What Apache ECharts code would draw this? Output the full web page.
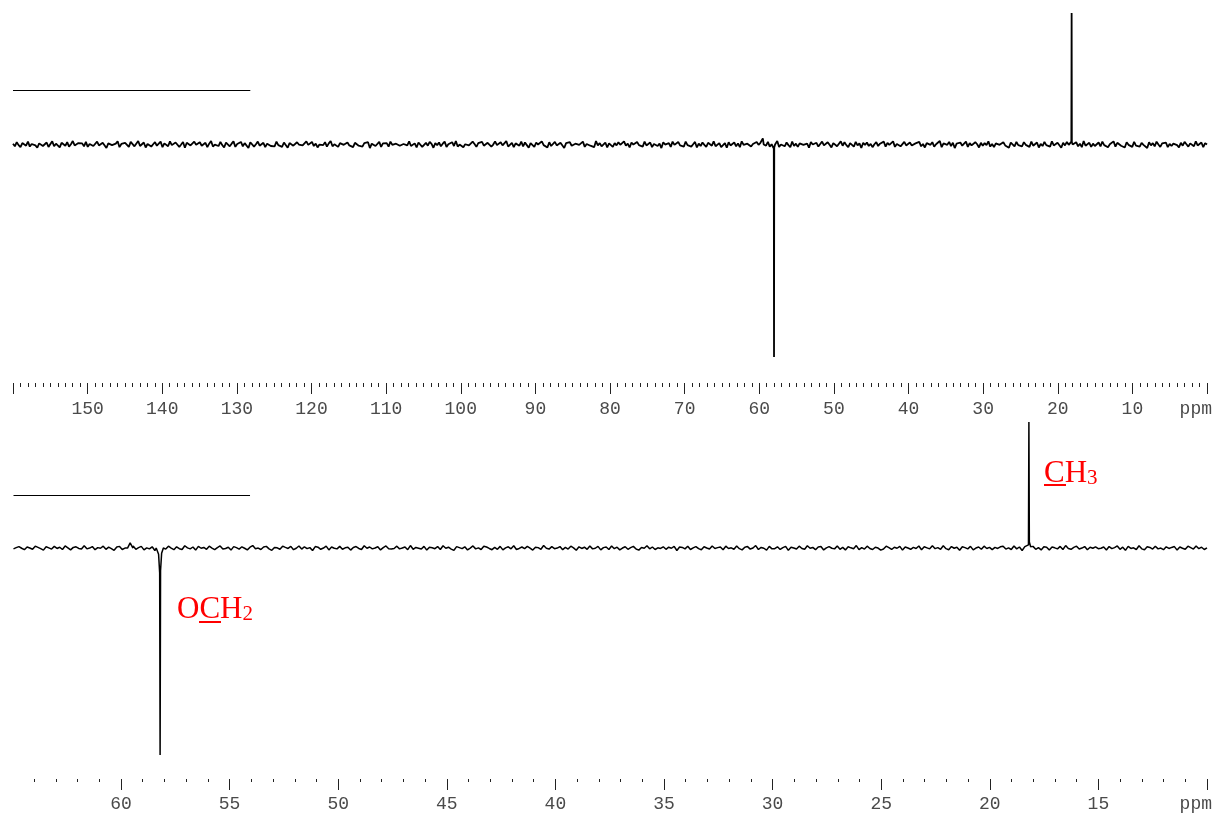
<!DOCTYPE html>
<html><head><meta charset="utf-8">
<script src="https://cdn.jsdelivr.net/npm/echarts@6/dist/echarts.min.js"></script>
<style>html,body{margin:0;padding:0;background:#fff}#c{width:1213px;height:814px}</style>
</head><body><div id="c"></div>
<script>
// ---------- axis ranges and ticks ----------
const topRange = [0, 160];
const botRange = [10, 64.95];
const topMajorTicks = [160,150,140,130,120,110,100,90,80,70,60,50,40,30,20,10,0];
const topLabelValues = [150,140,130,120,110,100,90,80,70,60,50,40,30,20,10];
const botMajorTicks = [60,55,50,45,40,35,30,25,20,15,10];
const botLabelValues = [60,55,50,45,40,35,30,25,20,15];
const unitLabel = 'ppm';
const topMinorStep = 1, botMinorStep = 1;

// ---------- spectra: baseline noise (intensity, evenly sampled from high ppm to low ppm) ----------
const topNoise = [
3,-6,8,-2,-9,5,1,-4,10,-7,2,6,-3,-11,4,9,-5,0,7,-8,
-2,11,-6,3,-1,-10,6,2,-4,8,-7,1,12,-3,-9,5,-1,4,-6,9,
-8,2,7,-5,0,10,-3,-7,6,1,-12,4,8,-2,-5,3,11,-9,2,-4,
6,-1,-8,9,3,-6,0,12,-5,-3,7,-10,2,5,-7,1,8,-4,-2,10,
-9,4,1,-6,11,-2,-5,7,3,-8,0,9,-11,6,2,-3,-7,10,-1,5,
8,-4,-1,6,-9,3,12,-7,0,4,-5,9,-2,-10,7,1,-6,3,11,-8,
2,-3,9,-6,5,-1,-12,8,4,-7,1,10,-4,-2,6,-9,3,7,-5,0,
-6,10,-2,4,-8,7,1,-11,5,3,-4,-9,8,0,6,-3,-7,11,-1,2,
9,-5,3,-10,0,6,-2,8,-7,4,12,-6,1,-3,-8,5,10,-1,-4,7,
-3,1,-9,6,11,-4,2,-7,5,-1,8,-12,3,7,-5,0,9,-8,4,-2,
5,-7,10,-1,-6,3,8,-4,-9,2,6,-3,11,-5,0,4,-10,7,1,-8,
-1,6,-4,9,2,-11,5,-2,7,-6,3,10,-8,1,-3,8,-5,12,-7,0,
4,-9,1,7,-3,-6,10,2,-8,5,-1,9,-4,-10,6,3,-7,0,11,-2,
-5,8,-3,2,12,-7,-1,6,-9,4,0,-4,10,-6,7,-2,-11,5,3,-8,
7,0,-6,11,-2,4,-10,8,-5,1,9,-3,-7,6,2,-12,5,-1,8,-4,
-7,3,9,-1,-5,10,-8,2,6,-4,1,-9,12,-3,5,-6,0,7,-10,4,
1,-8,5,-3,8,-1,-6,11,-4,3,-10,7,0,-5,9,-2,4,-7,10,-3,
-4,7,-9,2,6,-5,3,-12,8,0,-2,5,-8,10,-1,-6,9,-3,2,-7,
10,-2,4,-7,1,9,-10,3,-5,7,-1,-8,6,2,-4,11,-6,0,5,-9,
-2,5,-11,8,-3,0,7,-6,4,-9,11,-1,-5,3,8,-7,2,-4,9,-1,
6,-10,2,-4,9,-7,1,5,-3,12,-8,0,4,-6,7,-2,-9,10,-5,3,
-8,4,7,-1,-6,3,-11,9,0,-4,6,-7,2,10,-3,-5,8,-1,-10,5,
3,-6,0,11,-4,8,-2,-9,5,1,-7,9,-3,4,-12,6,-1,7,-5,2,
-9,1,8,-5,3,-2,10,-7,6,-1,-4,11,-8,2,5,-6,0,9,-3,-7,
7,-3,-8,4,0,9,-6,2,-10,5,3,-1,8,-7,1,-4,12,-9,4,-2,
-1,9,-5,6,-12,3,-2,7,-4,0,10,-8,5,-3,-6,8,1,-10,6,-4,
5,-2,11,-7,2,-9,4,6,-1,-5,8,-3,0,-11,7,3,-6,9,-2,1,
-6,8,-1,3,-8,10,-4,1,7,-10,2,-5,9,-2,4,-7,11,-3,0,6,
2,-11,6,-3,9,-1,-7,5,0,8,-6,3,-9,12,-4,1,6,-8,3,-5,
-3,7,-6,10,-2,4,-9,1,-5,11,-7,6,2,-4,0,-10,8,-1,5,-8,
9,-4,1,-7,6,-1,3,-12,8,-3,5,-6,10,0,-8,4,-2,7,-9,2,
-5,3,8,-2,-10,6,-4,9,1,-7,4,-1,-6,11,-3,2,7,-9,5,0
];
const botNoise = [
-4,2,7,-1,-8,5,0,-6,9,3,-3,-10,6,1,-5,8,-2,4,-7,10,
1,-9,3,6,-2,-5,11,-4,0,7,-8,2,-1,9,-6,4,-3,-11,5,8,
-7,0,4,-3,10,-6,2,8,-9,1,-4,6,-12,3,7,-2,-5,9,0,-8,
6,-3,-7,11,1,-4,5,-10,8,-1,3,-6,9,0,-8,2,10,-5,-2,4,
-10,7,2,-5,6,-1,-9,4,12,-3,0,-7,5,8,-4,-11,3,1,-6,9,
3,-2,8,-8,-1,10,-5,6,-3,2,-12,7,4,-6,0,9,-9,5,-1,-4,
8,-6,1,4,-10,3,7,-2,-7,11,-1,5,-4,0,6,-9,2,10,-3,-5,
-2,9,-4,0,5,-8,12,-6,3,-1,-5,8,-10,4,1,-3,7,-7,11,-1,
4,-5,-11,7,2,-3,6,-9,0,10,-4,1,-7,9,5,-2,-8,3,-6,8,
-9,1,6,-4,11,-7,-2,5,-3,8,0,-10,4,2,-6,12,-1,-5,7,-3,
0,7,-8,3,-5,9,1,-11,6,-2,4,-6,10,-4,-1,8,-9,2,5,-7,
10,-3,4,-9,0,6,-6,2,8,-5,-10,3,-1,11,-4,5,-7,1,-2,6,
-6,4,-1,8,-12,5,3,-4,9,-7,1,7,-3,-8,6,0,-5,10,-2,2,
5,-8,9,-2,1,-6,10,-3,-9,4,7,-5,0,12,-7,3,-1,-10,8,-4,
-3,6,-7,2,8,-11,4,0,-5,9,-2,-6,11,-1,3,-8,5,7,-9,1,
7,-1,-4,10,-6,3,-9,6,1,-3,12,-8,2,-5,9,-2,-7,4,0,-10,
-5,9,2,-7,4,-1,8,-10,5,0,-6,3,-2,10,-8,6,1,-4,11,-3,
2,-6,11,-3,-8,7,-1,4,-11,6,2,-4,8,-9,0,5,-6,9,-2,3,
-8,3,-2,6,9,-5,1,-7,10,-4,5,-12,7,1,-3,8,-6,2,-9,6,
4,-10,5,1,-4,8,-7,12,-2,-6,3,9,-5,0,7,-8,4,-1,6,-3,
-1,5,-9,7,-3,2,10,-6,4,-11,8,-2,1,-7,11,-4,-8,6,3,-5,
9,-4,0,-8,6,-2,3,7,-10,5,-1,-6,9,2,-5,10,-3,4,-7,1
];

// ---------- peaks: [ppm, intensity] ----------
const topCH3Peak = [[18.30,0],[18.18,10],[18.14,452],[18.11,8],[18.00,0]];
const topOCH2Peak = [[58.15,0],[58.05,-14],[58.02,-730],[57.99,-10],[57.88,0]];
const topSmallPeak = [[59.65,0],[59.52,21],[59.40,0]];
const botCH3Peak = [[18.30,0],[18.22,15],[18.20,609],[18.18,30],[18.12,6],[18.05,0]];
const botOCH2Peak = [[58.38,0],[58.27,-30],[58.22,-120],[58.20,-1000],[58.18,-110],[58.13,-25],[58.05,0]];
const botSmallPeak = [[59.70,0],[59.58,25],[59.45,0]];

// reference bars: [ppmFrom, ppmTo, intensity]
const topRefBar = [160, 128.2, 187];
const botRefBar = [64.95, 54.06, 255];

// annotation labels
const labelCH3 = ['C', 'H', '3'];
const labelOCH2 = ['O', 'C', 'H', '2'];

function buildSpectrum(noise, from, to, peaks) {
  const step = (from - to) / (noise.length - 1);
  let pts = noise.map((v, i) => [from - i * step, v]);
  peaks.forEach(pk => {
    const hi = pk[0][0], lo = pk[pk.length - 1][0];
    pts = pts.filter(p => p[0] > hi || p[0] < lo).concat(pk);
  });
  pts.sort((a, b) => b[0] - a[0]);
  return pts;
}
function minorTicks(range, step, majors) {
  const out = [];
  for (let v = Math.ceil(range[0]); v <= range[1] + 1e-9; v += step) {
    if (majors.indexOf(v) < 0) out.push(v);
  }
  return out;
}

const topData = buildSpectrum(topNoise, topRange[1], topRange[0], [topCH3Peak, topOCH2Peak, topSmallPeak]);
const botData = buildSpectrum(botNoise, botRange[1], botRange[0], [botCH3Peak, botOCH2Peak, botSmallPeak]);

const labelFont = {fontFamily: 'Liberation Mono', fontSize: 18, color: '#4a4a4a'};
const tickColor = '#222';

function xAxisMajor(grid, range, majors, labels, offset, margin) {
  return {
    type: 'value', gridIndex: grid, min: range[0], max: range[1], inverse: true,
    position: 'bottom', offset: offset,
    axisLine: {show: false, onZero: false}, splitLine: {show: false},
    axisTick: {show: true, length: 11, customValues: majors, lineStyle: {color: tickColor, width: 1}},
    axisLabel: Object.assign({show: true, margin: margin, customValues: labels}, labelFont)
  };
}
function xAxisMinor(grid, range, minors, offset, len) {
  return {
    type: 'value', gridIndex: grid, min: range[0], max: range[1], inverse: true,
    position: 'bottom', offset: offset,
    axisLine: {show: false, onZero: false}, splitLine: {show: false},
    axisTick: {show: true, length: len, customValues: minors, lineStyle: {color: tickColor, width: 1}},
    axisLabel: {show: false}
  };
}
function refBar(bar) {
  return {
    symbol: 'none', silent: true, animation: false,
    label: {show: false},
    lineStyle: {color: '#000', width: 1, type: 'solid'},
    data: [[{coord: [bar[0], bar[2]]}, {coord: [bar[1], bar[2]]}]]
  };
}

const chart = echarts.init(document.getElementById('c'), null, {renderer: 'canvas'});
const red = '#ff0000';
const serif = 'Liberation Serif';
chart.setOption({
  animation: false,
  backgroundColor: '#fff',
  grid: [
    {left: 13, right: 6, top: 13, height: 344},
    {left: 13.5, right: 6, top: 422, height: 333}
  ],
  xAxis: [
    xAxisMajor(0, topRange, topMajorTicks, topLabelValues, 26, 17),
    xAxisMinor(0, topRange, minorTicks(topRange, topMinorStep, topMajorTicks), 26, 4),
    xAxisMajor(1, botRange, botMajorTicks, botLabelValues, 24, 16),
    xAxisMinor(1, botRange, minorTicks([11, 64], botMinorStep, botMajorTicks), 24, 3)
  ],
  yAxis: [
    {type: 'value', gridIndex: 0, min: -730, max: 452, show: false},
    {type: 'value', gridIndex: 1, min: -1000, max: 609, show: false}
  ],
  series: [
    {type: 'line', xAxisIndex: 0, yAxisIndex: 0, data: topData, showSymbol: false, symbol: 'none',
     sampling: null, clip: false, lineStyle: {color: '#000', width: 1.8}, markLine: refBar(topRefBar)},
    {type: 'line', xAxisIndex: 2, yAxisIndex: 1, data: botData, showSymbol: false, symbol: 'none',
     sampling: null, clip: false, lineStyle: {color: '#000', width: 1.5}, markLine: refBar(botRefBar)}
  ],
  graphic: [
    {type: 'text', right: 1, top: 400, style: {text: unitLabel, font: '18px "Liberation Mono"', fill: '#4a4a4a'}},
    {type: 'text', right: 1, top: 795, style: {text: unitLabel, font: '18px "Liberation Mono"', fill: '#4a4a4a'}},
    {type: 'text', x: 1044, y: 458, style: {
      text: '{u|' + labelCH3[0] + '}{a|' + labelCH3[1] + '}{b|' + labelCH3[2] + '}',
      rich: {
        u: {fontSize: 31, fontFamily: serif, fill: red, lineHeight: 31},
        a: {fontSize: 31, fontFamily: serif, fill: red, lineHeight: 31},
        b: {fontSize: 21, fontFamily: serif, fill: red, lineHeight: 21, verticalAlign: 'bottom'}
      }}},
    {type: 'rect', shape: {x: 1044, y: 484, width: 22, height: 2}, style: {fill: red}},
    {type: 'text', x: 177, y: 594, style: {
      text: '{a|' + labelOCH2[0] + '}{u|' + labelOCH2[1] + '}{a|' + labelOCH2[2] + '}{b|' + labelOCH2[3] + '}',
      rich: {
        u: {fontSize: 31, fontFamily: serif, fill: red, lineHeight: 31},
        a: {fontSize: 31, fontFamily: serif, fill: red, lineHeight: 31},
        b: {fontSize: 21, fontFamily: serif, fill: red, lineHeight: 21, verticalAlign: 'bottom'}
      }}},
    {type: 'rect', shape: {x: 199, y: 621, width: 22, height: 2}, style: {fill: red}}
  ]
});
</script>
</body></html>
